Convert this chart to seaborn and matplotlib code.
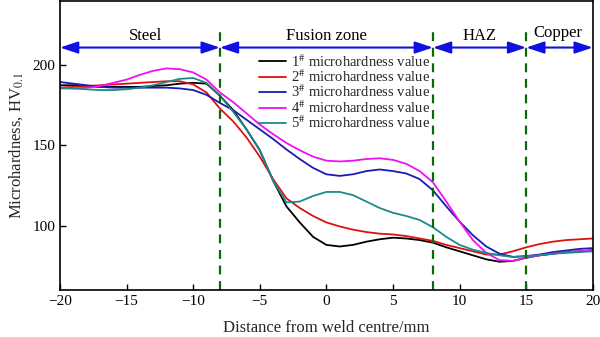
import numpy as np
import pandas as pd
import matplotlib
matplotlib.use("Agg")
import matplotlib.pyplot as plt
import seaborn as sns

sns.set_theme(style="white")
plt.rcParams['font.family'] = ['Liberation Serif', 'DejaVu Serif']
plt.rcParams['mathtext.fontset'] = 'stix'

# ---- data ----
distance = list(range(-20, 21))
hv1 = [187.5, 187.5, 187, 186.5, 186.5, 186.5, 186.5, 187, 187.5, 188.5, 189, 188.5, 181,
       172, 160, 147, 128, 112, 102, 93, 88, 87, 88, 90, 91.5, 92.5, 92, 91, 89.4,
       86.5, 84, 81.5, 79, 77.5, 78, 80, 81.5, 82.5, 83.5, 84, 84.5]
hv2 = [186, 186.5, 187, 187.5, 188, 188.5, 189, 189.5, 190, 190, 188, 183, 173,
       165, 155, 143, 129, 117, 111, 106, 102, 99.5, 97.5, 96, 95, 94.5, 93.5, 92, 90.5,
       88, 86, 84, 82, 82, 84, 86.5, 88.5, 90, 91, 91.5, 92]
hv3 = [189.5, 188.5, 187.5, 186.5, 186, 186, 186, 186, 186, 185.5, 184.5, 181.5, 176.5,
       172, 166, 160, 154, 147.5, 141.5, 136, 132, 131, 132, 134, 135, 134, 132.5, 129, 122,
       112, 102.5, 94, 87, 82.5, 80.5, 81, 82, 83.5, 84.5, 85.5, 86]
hv4 = [185.5, 185.5, 186, 187, 189, 191, 194, 196.5, 198, 197.5, 195.5, 191, 183,
       177, 170, 163, 157, 151.5, 147, 143, 140.5, 140, 140.5, 141.5, 142, 141, 138.5, 134, 127,
       115, 102.5, 91, 83, 78.5, 78, 80, 81.5, 82.5, 83.5, 84, 85]
hv5 = [186, 185.5, 185, 184.5, 184.5, 185, 186, 187.5, 189.5, 191.5, 192, 189, 181,
       171, 160, 147, 128, 114.5, 115, 118.5, 121, 121, 119, 115, 111, 108, 106, 103.5, 99,
       93, 88, 85, 83, 81.5, 80.5, 81, 81.5, 82.5, 83, 83.5, 84]

series_labels = ['1$^{\\#}$ microhardness value', '2$^{\\#}$ microhardness value',
                 '3$^{\\#}$ microhardness value', '4$^{\\#}$ microhardness value',
                 '5$^{\\#}$ microhardness value']
colors = ['#000000', '#e01010', '#1a1ab4', '#f010f0', '#1a8a8a']

boundaries = [-8, 8, 15]
zone_edges = [-20, -8, 8, 15, 20]
zone_names = ['Steel', 'Fusion zone', 'HAZ', 'Copper']
zone_label_x = [-13.6, 0, 11.5, 17.4]
zone_label_y = [218, 218, 218, 220]
xticks = [-20, -15, -10, -5, 0, 5, 10, 15, 20]
yticks = [100, 150, 200]

# ---- figure ----
fig = plt.figure(figsize=(6.0, 3.37), dpi=100)
ax = fig.add_axes([0.1, 0.14, 0.888, 0.857])

for vals, lab, col in zip([hv1, hv2, hv3, hv4, hv5], series_labels, colors):
    df = pd.DataFrame({'x': distance, 'y': vals})
    sns.lineplot(data=df, x='x', y='y', color=col, lw=1.3, ax=ax, label=lab)

for b in boundaries:
    ax.plot([b, b], [60, 222], color='#0a6a0a', lw=1.6, ls=(0, (4, 3)))

for i in range(4):
    ax.annotate('', xy=(zone_edges[i], 211), xytext=(zone_edges[i + 1], 211),
                arrowprops=dict(arrowstyle='<|-|>,head_length=0.9,head_width=0.3',
                                color='#1010e0', lw=1.5, shrinkA=0, shrinkB=0))
    ax.text(zone_label_x[i], zone_label_y[i], zone_names[i], fontsize=12,
            ha='center', va='center', color='black')

ax.set_xlim(-20, 20)
ax.set_ylim(60, 240)
ax.set_xticks(xticks)
ax.set_yticks(yticks)
ax.set_xticklabels(['\u221220', '\u221215', '\u221210', '\u22125', '0', '5', '10', '15', '20'])
ax.tick_params(direction='in', length=4, width=1, labelsize=11, colors='black',
               bottom=True, left=True, top=False, right=False)
for s in ax.spines.values():
    s.set_color('black')
    s.set_linewidth(1.2)

ax.set_xlabel('Distance from weld centre/mm', fontsize=12, labelpad=9)
ax.set_ylabel('Microhardness, HV$_{0.1}$', fontsize=12, labelpad=5)

leg = ax.legend(loc='upper left', bbox_to_anchor=(0.373, 0.82), frameon=False,
                fontsize=10.5, handlelength=1.9, handletextpad=0.3,
                labelspacing=-0.08, borderpad=0, borderaxespad=0)

fig.savefig('out.png', dpi=100)
